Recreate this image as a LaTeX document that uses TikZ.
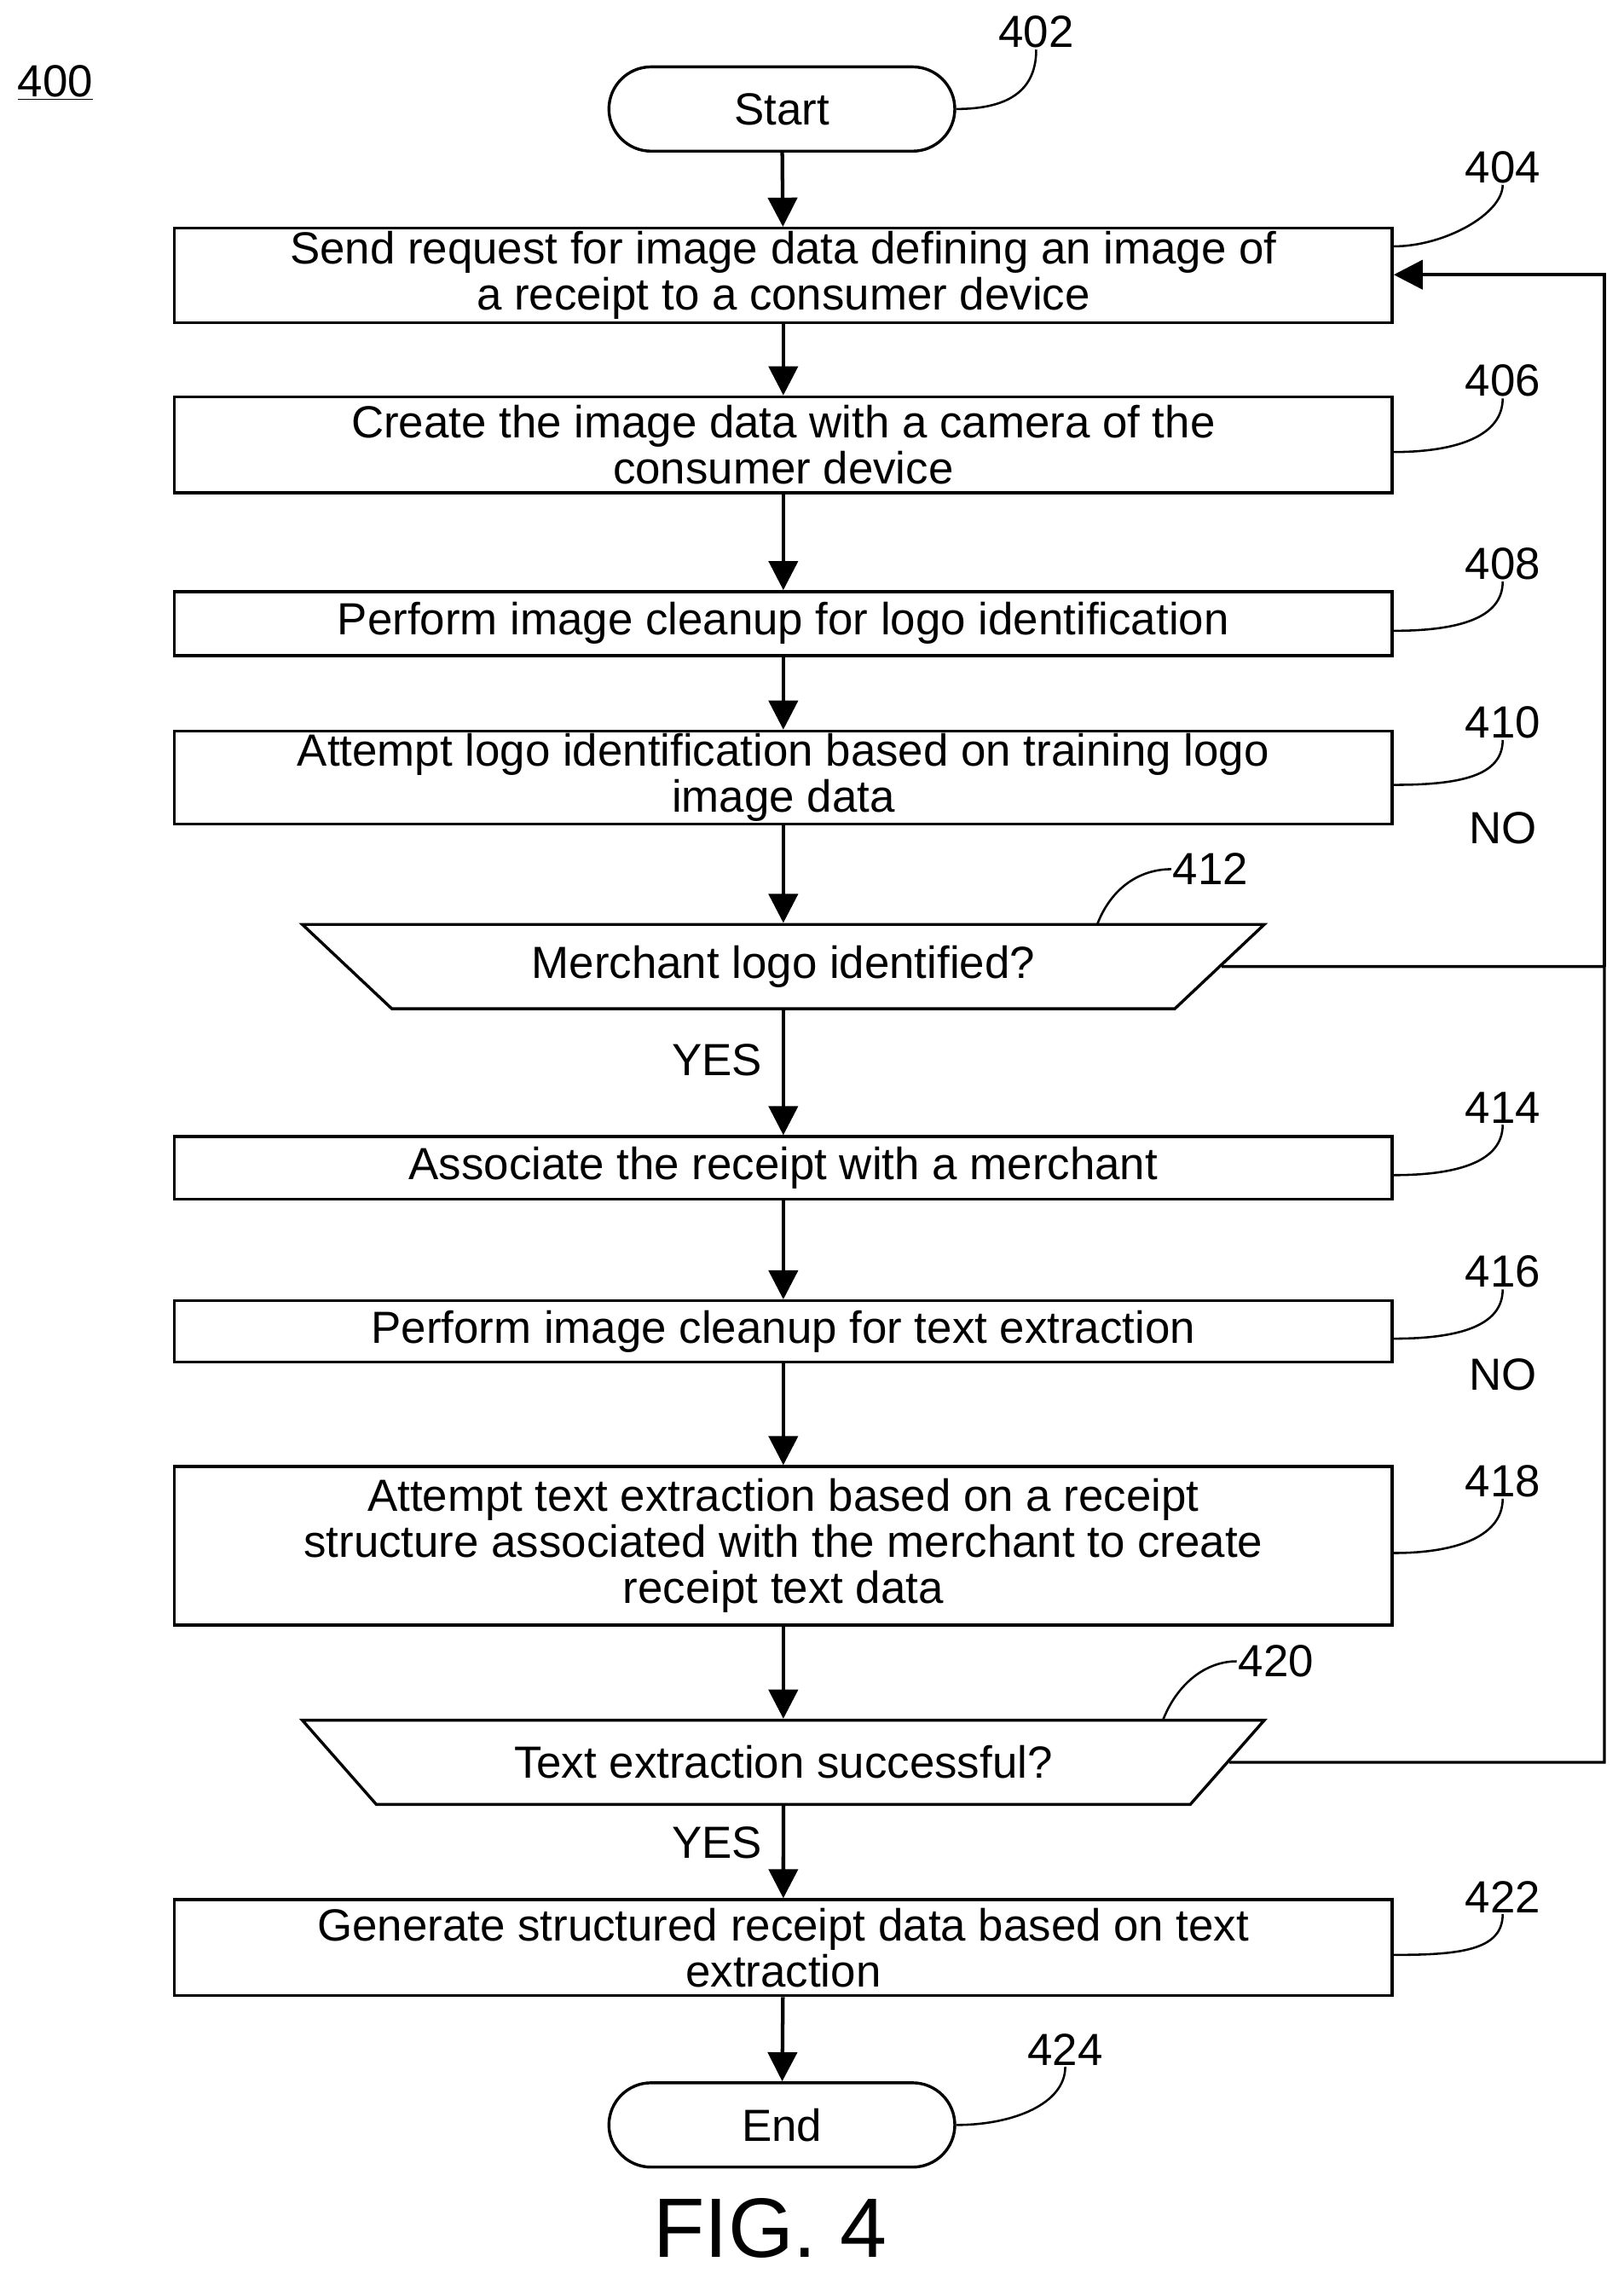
\documentclass[tikz,border=0pt]{standalone}
\usepackage{fontspec}
\setmainfont{Liberation Sans}
\usetikzlibrary{shapes.geometric,arrows.meta}
\begin{document}
\begin{tikzpicture}[x=1pt,y=-1pt,
  font=\fontsize{31}{31.5}\selectfont,
  box/.style={draw,line width=2pt,minimum width=838pt,align=center,inner sep=0pt},
  term/.style={draw,line width=2pt,rounded corners=29pt,minimum width=238pt,minimum height=58pt},
  dec/.style={draw,line width=2pt,trapezium,trapezium angle=30,shape border rotate=180,trapezium stretches body,minimum width=662pt,minimum height=58pt},
  arr/.style={line width=2.5pt,-{Triangle[length=20pt,width=20pt]}},
  lead/.style={line width=1.5pt},
  lbl/.style={inner sep=1pt}]
\useasboundingbox (0,0) rectangle (1117,1568);
\node[lbl] (fig) at (38,57) {\underline{400}};
\node[term] (start) at (538,75) {Start};
\node[box,minimum height=65pt] (b404) at (539,189.5) {Send request for image data defining an image of\\a receipt to a consumer device};
\node[box,minimum height=66pt] (b406) at (539,306) {Create the image data with a camera of the\\consumer device};
\node[box,minimum height=44pt] (b408) at (539,429) {Perform image cleanup for logo identification};
\node[box,minimum height=64pt] (b410) at (539,535) {Attempt logo identification based on training logo\\image data};
\node[dec] (d412) at (539,665) {Merchant logo identified?};
\node[box,minimum height=43pt] (b414) at (539,803.5) {Associate the receipt with a merchant};
\node[box,minimum height=42pt] (b416) at (539,916) {Perform image cleanup for text extraction};
\node[box,minimum height=109pt] (b418) at (539,1063.5) {Attempt text extraction based on a receipt\\structure associated with the merchant to create\\receipt text data};
\node[dec] (d420) at (539,1212.5) {Text extraction successful?};
\node[box,minimum height=66pt] (b422) at (539,1340) {Generate structured receipt data based on text\\extraction};
\node[term] (end) at (538,1462) {End};
\node[font=\fontsize{58}{60}\selectfont] (cap) at (530,1533) {FIG. 4};

\draw[arr] (start) -- (b404);
\draw[arr] (b404) -- (b406);
\draw[arr] (b406) -- (b408);
\draw[arr] (b408) -- (b410);
\draw[arr] (b410) -- (d412);
\draw[arr] (d412) -- node[left=10pt,pos=0.4] (y1) {YES} (b414);
\draw[arr] (b414) -- (b416);
\draw[arr] (b416) -- (b418);
\draw[arr] (b418) -- (d420);
\draw[arr] (d420) -- node[left=10pt,pos=0.4] (y2) {YES} (b422);
\draw[arr] (b422) -- (end);

\coordinate (c1) at (1104,665);
\coordinate (c2) at (1104,1212.5);
\coordinate (c3) at (1104,189);
\draw[line width=2pt] (d412.east) -- (c1);
\draw[line width=2pt] (d420.east) -- (c2) -- (c1);
\draw[arr] (c1) -- (c3) -- (b404.east |- c3);
\node[lbl] (no1) at (1034,570) {NO};
\node[lbl] (no2) at (1034,946) {NO};

\node[lbl] (l402) at (713,22) {402};
\draw[lead] (start.east) .. controls +(40,0) and +(0,25) .. (l402.south);
\node[lbl] (l412) at (833,598) {412};
\draw[lead] (755,636) .. controls (765,610) and (785,598) .. (l412.west);
\node[lbl] (l420) at (878,1143) {420};
\draw[lead] (800,1184) .. controls (810,1158) and (830,1143) .. (l420.west);
\node[lbl] (l424) at (733,1410) {424};
\draw[lead] (end.east) .. controls +(40,0) and +(0,25) .. (l424.south);
\node[lbl] (l404) at (1034,115) {404};
\draw[lead] (b404.east) ++(0,-20) .. controls +(35,0) and +(0,20) .. (l404.south);
\foreach \n/\y in {406/262,408/388,410/497,414/762,416/875,418/1019,422/1305}{
  \node[lbl] (l\n) at (1034,\y) {\n};
  \draw[lead] (b\n.east) ++(0,5) .. controls +(45,0) and +(0,25) .. (l\n.south);
}
\end{tikzpicture}
\end{document}
